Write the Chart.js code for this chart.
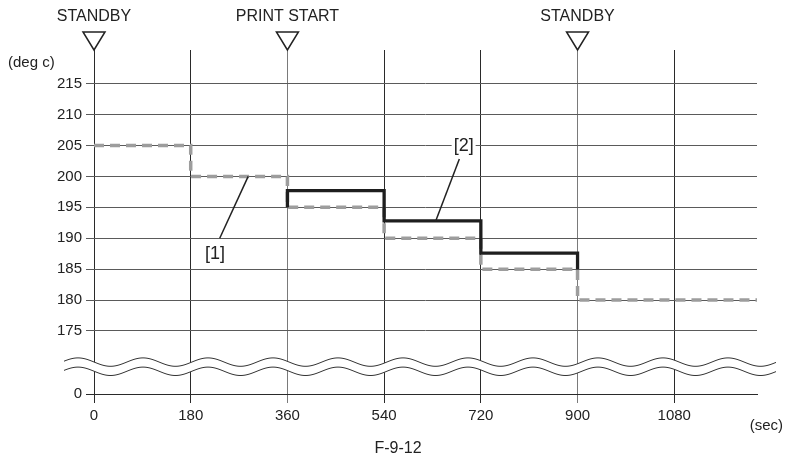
<!DOCTYPE html>
<html>
<head>
<meta charset="utf-8">
<script src="https://cdn.jsdelivr.net/npm/chart.js@4.4.0/dist/chart.umd.min.js"></script>
<style>
  html, body { margin: 0; padding: 0; background: #fff; }
  #wrap { width: 785px; height: 461px; position: relative; }
</style>
</head>
<body>
<div id="wrap"><canvas id="c" width="785" height="461"></canvas></div>
<script>
// ---- data ----
const timeTicks = [0, 180, 360, 540, 720, 900, 1080];          // sec
const tempTicks = [0, 175, 180, 185, 190, 195, 200, 205, 210, 215]; // deg c
const timeMax = 1234;
const tempTop = 220.45;
const breakValue = 164.8; // axis position standing in for 0 on the broken axis

// [1] dashed gray step series
const series1Times = [0, 180, 360, 540, 720, 900, 1234];
const series1Temps = [205, 200, 195, 190, 185, 180, 180];
// [2] solid black step series
const series2Times = [360, 360, 540, 720, 900];
const series2Temps = [195, 197.7, 192.8, 187.6, 185];

// event markers along the top
const markerTimes = [0, 360, 900];
const markerLabels = ['STANDBY', 'PRINT START', 'STANDBY'];

// callouts: label, text position, leader start, leader end (data coords)
const calloutLabels = ['[1]', '[2]'];
const calloutText = [[225, 187.6], [688, 205.1]];
const calloutFrom = [[234, 190.0], [680, 202.8]];
const calloutTo = [[287, 200.0], [636, 192.8]];

const FONT = '"Liberation Sans", Arial, Helvetica, sans-serif';
const INK = '#222';

function pts(xs, ys) { return xs.map((x, i) => ({ x: x, y: ys[i] })); }

const overlay = {
  id: 'overlay',
  afterDraw(chart) {
    const ctx = chart.ctx;
    const xs = chart.scales.x, ys = chart.scales.y;
    const ca = chart.chartArea;
    ctx.save();

    // --- axis break waves ---
    const y175 = ys.getPixelForValue(175), y0 = ys.getPixelForValue(breakValue);
    const c1 = y175 + 0.494 * (y0 - y175);
    const c2 = y175 + 0.64 * (y0 - y175);
    const amp = 4.2, period = 65, crest = ca.left + 49;
    const wx0 = ca.left - 30, wx1 = ca.right + 19;
    const wy = (c, x) => c - amp * Math.cos(2 * Math.PI * (x - crest) / period);
    ctx.beginPath();
    for (let x = wx0; x <= wx1; x += 1) { const y = wy(c1, x); x === wx0 ? ctx.moveTo(x, y) : ctx.lineTo(x, y); }
    for (let x = wx1; x >= wx0; x -= 1) ctx.lineTo(x, wy(c2, x));
    ctx.closePath();
    ctx.fillStyle = '#fff';
    ctx.fill();
    ctx.strokeStyle = '#333';
    ctx.lineWidth = 1;
    [c1, c2].forEach(c => {
      ctx.beginPath();
      for (let x = wx0; x <= wx1; x += 1) { const y = wy(c, x); x === wx0 ? ctx.moveTo(x, y) : ctx.lineTo(x, y); }
      ctx.stroke();
    });

    // --- markers ---
    markerTimes.forEach((t, i) => {
      const px = xs.getPixelForValue(t);
      ctx.beginPath();
      ctx.moveTo(px - 11, 32);
      ctx.lineTo(px + 11, 32);
      ctx.lineTo(px, ca.top);
      ctx.closePath();
      ctx.fillStyle = '#fff';
      ctx.fill();
      ctx.strokeStyle = INK;
      ctx.lineWidth = 1.5;
      ctx.stroke();
      ctx.fillStyle = INK;
      ctx.font = '16px ' + FONT;
      ctx.textAlign = 'center';
      ctx.textBaseline = 'middle';
      ctx.fillText(markerLabels[i], px, 17);
    });

    // --- callouts ---
    ctx.font = '18px ' + FONT;
    calloutLabels.forEach((lab, i) => {
      ctx.strokeStyle = INK;
      ctx.lineWidth = 1.5;
      ctx.beginPath();
      ctx.moveTo(xs.getPixelForValue(calloutFrom[i][0]), ys.getPixelForValue(calloutFrom[i][1]));
      ctx.lineTo(xs.getPixelForValue(calloutTo[i][0]), ys.getPixelForValue(calloutTo[i][1]));
      ctx.stroke();
      const tx = xs.getPixelForValue(calloutText[i][0]), ty = ys.getPixelForValue(calloutText[i][1]);
      const w = ctx.measureText(lab).width;
      ctx.fillStyle = '#fff';
      ctx.fillRect(tx - w / 2 - 2, ty - 9, w + 4, 18);
      ctx.fillStyle = INK;
      ctx.textAlign = 'center';
      ctx.textBaseline = 'middle';
      ctx.fillText(lab, tx, ty + 1);
    });

    // --- units & caption ---
    ctx.font = '15px ' + FONT;
    ctx.fillStyle = INK;
    ctx.textBaseline = 'middle';
    ctx.textAlign = 'left';
    ctx.fillText('(deg c)', 8, 63);
    ctx.textAlign = 'right';
    ctx.fillText('(sec)', 783, 426);
    ctx.textAlign = 'center';
    ctx.font = '16px ' + FONT;
    ctx.fillText('F-9-12', 398, 449);
    ctx.restore();
  }
};

new Chart(document.getElementById('c'), {
  type: 'line',
  data: {
    datasets: [
      {
        label: '[2]',
        data: pts(series2Times, series2Temps),
        borderColor: '#1e1e1e',
        borderWidth: 3.3,
        stepped: 'before',
        pointRadius: 0,
        fill: false,
        order: 0
      },
      {
        label: '[1]',
        data: pts(series1Times, series1Temps),
        borderColor: '#9d9d9d',
        borderWidth: 3.5,
        borderDash: [10, 6],
        stepped: 'before',
        pointRadius: 0,
        fill: false,
        order: 1
      }
    ]
  },
  options: {
    responsive: false,
    animation: false,
    layout: { padding: { left: 0, top: 50, right: 28, bottom: 0 } },
    plugins: { legend: { display: false }, tooltip: { enabled: false } },
    scales: {
      x: {
        type: 'linear',
        min: 0,
        max: timeMax,
        afterBuildTicks(s) { s.ticks = timeTicks.map(v => ({ value: v })); },
        afterFit(s) { s.height = 67; },
        grid: {
          color: ctx => (ctx.tick && (ctx.tick.value === 360 || ctx.tick.value === 900)) ? '#7a7a7a' : '#2a2a2a',
          lineWidth: 1,
          tickLength: 9,
          drawOnChartArea: true
        },
        border: { display: true, color: '#2a2a2a', width: 1 },
        ticks: {
          color: INK,
          font: { size: 15, family: FONT },
          padding: 4,
          maxRotation: 0,
          autoSkip: false,
          callback: v => String(v)
        }
      },
      y: {
        type: 'linear',
        min: breakValue,
        max: tempTop,
        afterBuildTicks(s) { s.ticks = tempTicks.map(v => ({ value: v === 0 ? breakValue : v })); },
        afterFit(s) { s.width = 94; },
        grid: {
          color: ctx => (ctx.tick && ctx.tick.value === breakValue) ? '#2a2a2a' : '#5a5a5a',
          lineWidth: 1,
          tickLength: 8
        },
        border: { display: false },
        ticks: {
          color: INK,
          font: { size: 15, family: FONT },
          padding: 4,
          autoSkip: false,
          callback: v => (v === breakValue ? '0' : String(v))
        }
      }
    }
  },
  plugins: [overlay]
});
</script>
</body>
</html>
